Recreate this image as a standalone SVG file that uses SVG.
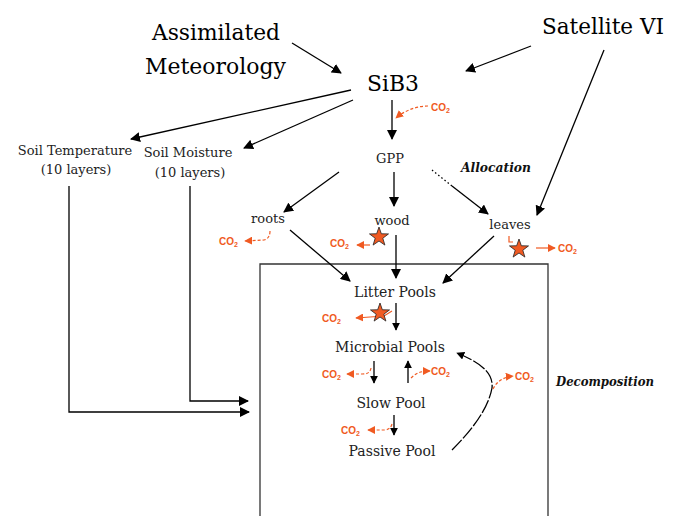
<svg xmlns="http://www.w3.org/2000/svg" width="683" height="516" viewBox="0 0 683 516">
<defs>
<marker id="ah" viewBox="0 0 10 10" refX="9" refY="5" markerWidth="10" markerHeight="10" markerUnits="userSpaceOnUse" orient="auto">
<path d="M0,0 L10,5 L0,10 z" fill="#000"/>
</marker>
<marker id="ahs" viewBox="0 0 10 10" refX="9" refY="5" markerWidth="8" markerHeight="8" markerUnits="userSpaceOnUse" orient="auto">
<path d="M0,0 L10,5 L0,10 z" fill="#000"/>
</marker>
<marker id="oh" viewBox="0 0 10 10" refX="9" refY="5" markerWidth="8" markerHeight="8" markerUnits="userSpaceOnUse" orient="auto">
<path d="M0,0 L10,5 L0,10 z" fill="#f05a22"/>
</marker>
<polygon id="star" points="0,-10 2.35,-3.24 9.51,-3.09 3.8,1.24 5.88,8.09 0,4 -5.88,8.09 -3.8,1.24 -9.51,-3.09 -2.35,-3.24" fill="#f05a22" stroke="#222" stroke-width="0.8"/>
</defs>
<style>
.big{font-family:'DejaVu Serif',serif;font-size:23px;fill:#000}
.lab{font-family:'DejaVu Serif',serif;font-size:13px;fill:#222}
.pool{font-family:'DejaVu Serif',serif;font-size:14px;fill:#222}
.bi{font-family:'DejaVu Serif',serif;font-size:12.5px;font-weight:bold;font-style:italic;fill:#111}
.co2{font-family:'Liberation Sans',Arial,sans-serif;font-size:10px;font-weight:bold;fill:#f05a22}
.ln{stroke:#000;stroke-width:1.3;fill:none}
.or{stroke:#f05a22;stroke-width:1.2;fill:none}
.ord{stroke:#f05a22;stroke-width:1.2;fill:none;stroke-dasharray:3,2}
</style>
<rect width="683" height="516" fill="#fff"/>

<g id="box"><path d="M260,516 V264 H548 V516" fill="none" stroke="#333" stroke-width="1.3"/></g>

<g id="connectors">
<line class="ln" x1="292" y1="43" x2="341" y2="73" marker-end="url(#ah)"/>
<line class="ln" x1="531" y1="46" x2="466" y2="71" marker-end="url(#ah)"/>
<line class="ln" x1="351" y1="90" x2="131" y2="139" marker-end="url(#ah)"/>
<line class="ln" x1="353" y1="100" x2="244" y2="148" marker-end="url(#ah)"/>
<line class="ln" x1="392" y1="100" x2="392" y2="139" marker-end="url(#ah)"/>
<line class="ln" x1="604" y1="50" x2="537" y2="215" marker-end="url(#ah)"/>
<line class="ln" x1="339" y1="172" x2="284" y2="212" marker-end="url(#ah)"/>
<line class="ln" x1="394" y1="172" x2="394" y2="206" marker-end="url(#ah)"/>
<line class="ln" x1="432" y1="170" x2="452" y2="186" stroke-dasharray="1.5,2.5"/>
<line class="ln" x1="452" y1="186" x2="488" y2="214" marker-end="url(#ah)"/>
<path class="ln" d="M69,186 V412 H249" marker-end="url(#ah)"/>
<path class="ln" d="M190,186 V401 H248" marker-end="url(#ah)"/>
<line class="ln" x1="290" y1="230" x2="350" y2="281" marker-end="url(#ah)"/>
<line class="ln" x1="396" y1="235" x2="396" y2="278" marker-end="url(#ah)"/>
<line class="ln" x1="494" y1="236" x2="443" y2="283" marker-end="url(#ah)"/>
<line class="ln" x1="396" y1="303" x2="396" y2="330" marker-end="url(#ahs)"/>
<line class="ln" x1="374" y1="361" x2="374" y2="383" marker-end="url(#ahs)"/>
<line class="ln" x1="408" y1="383" x2="408" y2="361" marker-end="url(#ahs)"/>
<line class="ln" x1="394" y1="415" x2="394" y2="435" marker-end="url(#ahs)"/>
<path class="ln" d="M452,450 C470,432 488,410 492,388 C494,370 474,360 457,353" stroke-dasharray="14,2" marker-end="url(#ahs)"/>
</g>

<g id="co2-fluxes">
<path class="ord" d="M428,106 C416,106 404,111 396,118" marker-end="url(#oh)"/>
<text class="co2" x="431" y="111">CO<tspan font-size="7" dy="2">2</tspan></text>
<path class="ord" d="M270,231 C270,236 268,239 264,240 L245,241" marker-end="url(#oh)"/>
<text class="co2" x="219" y="245">CO<tspan font-size="7" dy="2">2</tspan></text>
<line class="or" x1="370" y1="245" x2="357" y2="245" marker-end="url(#oh)"/>
<text class="co2" x="330" y="247">CO<tspan font-size="7" dy="2">2</tspan></text>
<line class="or" x1="536" y1="248" x2="555" y2="248" marker-end="url(#oh)"/>
<text class="co2" x="558" y="252">CO<tspan font-size="7" dy="2">2</tspan></text>
<path class="or" d="M509,236 V242 H513" stroke-width="0.8"/>
<path class="or" d="M392,311 L384,316 L356,318" marker-end="url(#oh)"/>
<text class="co2" x="322" y="322">CO<tspan font-size="7" dy="2">2</tspan></text>
<path class="ord" d="M371,368 C370,373 367,374 362,374 L347,374" marker-end="url(#oh)"/>
<text class="co2" x="322" y="378">CO<tspan font-size="7" dy="2">2</tspan></text>
<path class="ord" d="M411,378 C416,373 421,371 430,371" marker-end="url(#oh)"/>
<text class="co2" x="431" y="375">CO<tspan font-size="7" dy="2">2</tspan></text>
<path class="ord" d="M392,424 C391,428 388,430 384,430 L368,430" marker-end="url(#oh)"/>
<text class="co2" x="341" y="434">CO<tspan font-size="7" dy="2">2</tspan></text>
<path class="ord" d="M493,389 C497,381 504,377 513,376" marker-end="url(#oh)"/>
<text class="co2" x="515" y="380">CO<tspan font-size="7" dy="2">2</tspan></text>
</g>

<g id="stars">
<use href="#star" x="379" y="237"/>
<use href="#star" x="519" y="249"/>
<use href="#star" x="380" y="313"/>
</g>

<g id="assimilated-meteorology"><text class="big" x="152" y="40" textLength="128" lengthAdjust="spacingAndGlyphs">Assimilated</text><text class="big" x="145" y="74" textLength="141" lengthAdjust="spacingAndGlyphs">Meteorology</text></g>
<g id="satellite-vi"><text class="big" x="542" y="34" textLength="122" lengthAdjust="spacingAndGlyphs">Satellite VI</text></g>
<g id="sib3"><text class="big" x="367" y="91" textLength="52" lengthAdjust="spacingAndGlyphs">SiB3</text></g>
<g id="soil-temperature"><text class="lab" x="75" y="155" text-anchor="middle">Soil Temperature</text><text class="lab" x="76" y="174" text-anchor="middle">(10 layers)</text></g>
<g id="soil-moisture"><text class="lab" x="188" y="157" text-anchor="middle">Soil Moisture</text><text class="lab" x="190" y="177" text-anchor="middle">(10 layers)</text></g>
<g id="gpp"><text class="lab" x="390" y="163" text-anchor="middle">GPP</text></g>
<g id="allocation"><text class="bi" x="461" y="172" textLength="70" lengthAdjust="spacingAndGlyphs">Allocation</text></g>
<g id="roots"><text class="lab" x="268" y="223" text-anchor="middle">roots</text></g>
<g id="wood"><text class="lab" x="392" y="225" text-anchor="middle">wood</text></g>
<g id="leaves"><text class="lab" x="510" y="229" text-anchor="middle">leaves</text></g>
<g id="litter-pools"><text class="pool" x="395" y="297" text-anchor="middle">Litter Pools</text></g>
<g id="microbial-pools"><text class="pool" x="390" y="352" text-anchor="middle">Microbial Pools</text></g>
<g id="slow-pool"><text class="pool" x="391" y="408" text-anchor="middle">Slow Pool</text></g>
<g id="passive-pool"><text class="pool" x="392" y="456" text-anchor="middle">Passive Pool</text></g>
<g id="decomposition"><text class="bi" x="556" y="386" textLength="98" lengthAdjust="spacingAndGlyphs">Decomposition</text></g>
</svg>
